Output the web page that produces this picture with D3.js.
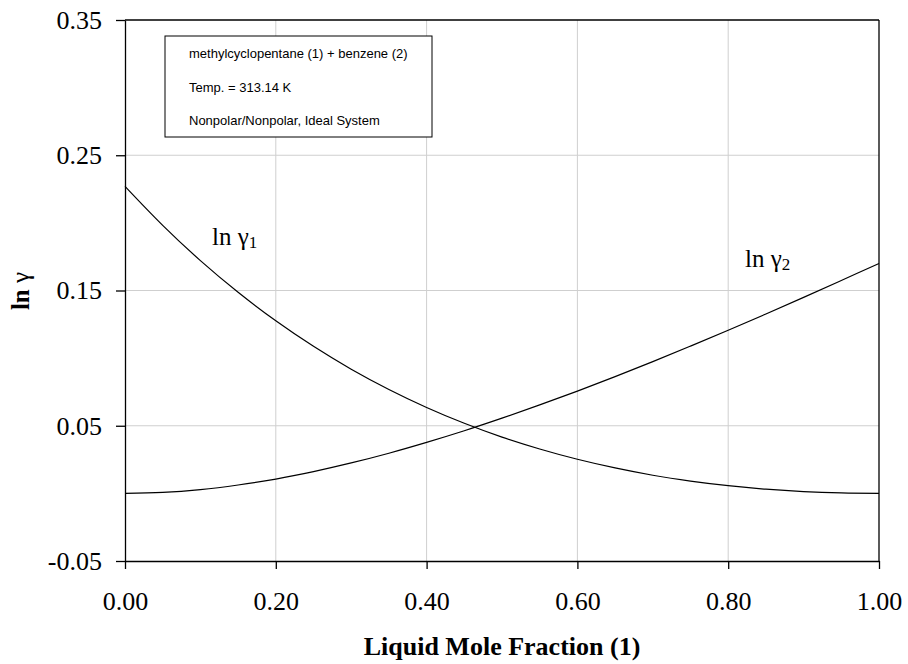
<!DOCTYPE html>
<html>
<head>
<meta charset="utf-8">
<script src="https://cdn.jsdelivr.net/npm/d3@7/dist/d3.min.js"></script>
<style>
  html, body { margin: 0; padding: 0; background: #fff; }
  svg { display: block; }
</style>
</head>
<body>
<svg id="chart" width="908" height="664"></svg>
<script>
// Liquid mole fraction of component (1)
const moleFraction = [0.00, 0.05, 0.10, 0.15, 0.20, 0.25, 0.30, 0.35, 0.40, 0.45, 0.50,
                      0.55, 0.60, 0.65, 0.70, 0.75, 0.80, 0.85, 0.90, 0.95, 1.00];
// ln gamma for methylcyclopentane (1)
const lnGamma1 = [0.2270, 0.1982, 0.1721, 0.1487, 0.1276, 0.1087, 0.0918, 0.0768, 0.0635, 0.0518, 0.0416,
                  0.0328, 0.0252, 0.0188, 0.0134, 0.0091, 0.0057, 0.0031, 0.0013, 0.0003, 0.0000];
// ln gamma for benzene (2)
const lnGamma2 = [0.0000, 0.0007, 0.0028, 0.0062, 0.0106, 0.0161, 0.0225, 0.0297, 0.0377, 0.0463, 0.0556,
                  0.0654, 0.0756, 0.0863, 0.0974, 0.1089, 0.1206, 0.1326, 0.1449, 0.1574, 0.1700];

const xTicks = [0.00, 0.20, 0.40, 0.60, 0.80, 1.00];
const yTicks = [-0.05, 0.05, 0.15, 0.25, 0.35];
const legendLines = [
  "methylcyclopentane (1) + benzene (2)",
  "Temp. = 313.14 K",
  "Nonpolar/Nonpolar, Ideal System"
];

const svg = d3.select("#chart");
const plotLeft = 125, plotRight = 879, plotTop = 20, plotBottom = 561;

const x = d3.scaleLinear().domain([0, 1]).range([plotLeft, plotRight]);
const y = d3.scaleLinear().domain([-0.05, 0.35]).range([plotBottom, plotTop]);

const serif = "'Liberation Serif', 'Times New Roman', serif";
const sans = "'Liberation Sans', Arial, sans-serif";

// grid
const grid = svg.append("g").attr("stroke", "#cfcfcf").attr("stroke-width", 1);
xTicks.filter(t => t > 0 && t < 1).forEach(t => {
  grid.append("line").attr("x1", x(t)).attr("x2", x(t)).attr("y1", plotTop).attr("y2", plotBottom);
});
yTicks.filter(t => t > -0.05 && t < 0.35).forEach(t => {
  grid.append("line").attr("x1", plotLeft).attr("x2", plotRight).attr("y1", y(t)).attr("y2", y(t));
});

// axes
const xAxis = d3.axisBottom(x).tickValues(xTicks).tickFormat(d3.format(".2f"))
  .tickSizeInner(8).tickSizeOuter(0).tickPadding(23);
const yAxis = d3.axisLeft(y).tickValues(yTicks).tickFormat(d => d3.format(".2f")(d).replace("−", "-"))
  .tickSizeInner(9).tickSizeOuter(0).tickPadding(14);

const gx = svg.append("g").attr("transform", `translate(0,${plotBottom})`).call(xAxis);
const gy = svg.append("g").attr("transform", `translate(${plotLeft},0)`).call(yAxis);
[gx, gy].forEach(g => {
  g.selectAll("path, line").attr("stroke", "#000").attr("stroke-width", 1.3);
  g.selectAll("text").attr("font-family", serif).attr("font-size", 26).attr("fill", "#000");
});
gx.selectAll("text").attr("dy", "0.71em");

// frame top/right
svg.append("line").attr("x1", plotLeft).attr("x2", plotRight).attr("y1", plotTop).attr("y2", plotTop)
  .attr("stroke", "#000").attr("stroke-width", 1.3);
svg.append("line").attr("x1", plotRight).attr("x2", plotRight).attr("y1", plotTop).attr("y2", plotBottom)
  .attr("stroke", "#000").attr("stroke-width", 1.3);

// curves
const line = d3.line().curve(d3.curveCatmullRom.alpha(0.5));
[lnGamma1, lnGamma2].forEach(series => {
  svg.append("path")
    .attr("d", line(moleFraction.map((m, i) => [x(m), y(series[i])])))
    .attr("fill", "none").attr("stroke", "#000").attr("stroke-width", 1.2);
});

// curve labels
function curveLabel(px, py, sub) {
  const t = svg.append("text").attr("x", px).attr("y", py)
    .attr("font-family", serif).attr("font-size", 25).attr("fill", "#000");
  t.append("tspan").text("ln γ");
  t.append("tspan").attr("font-size", 17).attr("dy", 3).text(sub);
}
curveLabel(212, 245, "1");
curveLabel(745, 267, "2");

// legend box
svg.append("rect").attr("x", 165).attr("y", 36).attr("width", 267).attr("height", 101)
  .attr("fill", "#fff").attr("stroke", "#000").attr("stroke-width", 1);
legendLines.forEach((s, i) => {
  svg.append("text").attr("x", 189).attr("y", 58 + i * 33.5)
    .attr("font-family", sans).attr("font-size", 13).attr("fill", "#000").text(s);
});

// axis titles
svg.append("text").attr("x", (plotLeft + plotRight) / 2).attr("y", 655)
  .attr("text-anchor", "middle").attr("font-family", serif).attr("font-weight", "bold")
  .attr("font-size", 26).attr("fill", "#000").text("Liquid Mole Fraction (1)");

const yt = svg.append("text").attr("transform", "translate(29,291) rotate(-90)")
  .attr("text-anchor", "middle").attr("font-family", serif).attr("font-size", 25).attr("fill", "#000");
yt.append("tspan").attr("font-weight", "bold").text("ln ");
yt.append("tspan").text("γ");
</script>
</body>
</html>
